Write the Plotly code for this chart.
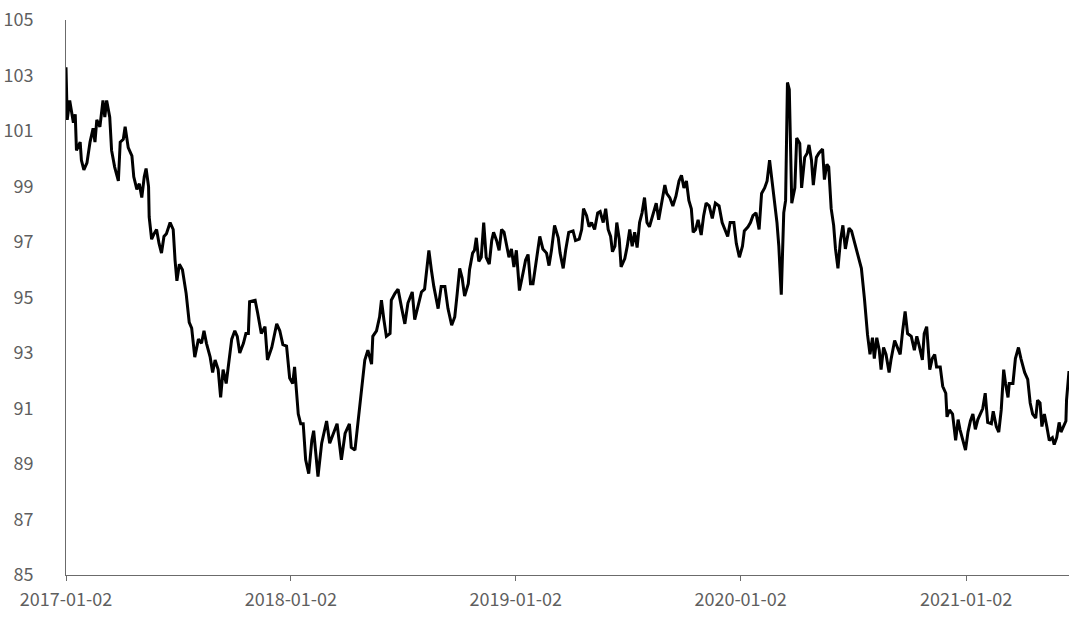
import pandas as pd
import plotly.graph_objects as go

# Days elapsed since 2017-01-02 for each sampled observation
day_offsets = [
    0, 2, 6, 12, 15, 17, 23, 25, 29, 34,
    39, 44, 47, 50, 55, 60, 63, 66, 71, 74,
    79, 85, 88, 93, 96, 101, 107, 110, 115, 119,
    123, 127, 130, 134, 135, 139, 143, 147, 151, 155,
    159, 163, 169, 174, 177, 180, 184, 189, 195, 200,
    204, 209, 215, 220, 224, 228, 234, 238, 242, 247,
    251, 255, 260, 263,
    269, 274, 278, 282, 288, 292, 296,
    298, 307, 311, 317, 323, 327, 334, 342, 347, 352,
    358, 363, 368, 371, 377, 381, 385, 389, 394, 399,
    402, 406, 409, 415, 423, 428, 434, 440, 447, 453,
    460, 463, 469, 474, 480, 485, 490, 496, 498, 504,
    509, 512, 516, 520, 526, 528, 534, 539, 545, 550,
    555, 562, 566, 572, 577, 582, 588,
    589, 593, 597, 604, 609, 615, 620, 626, 631, 635,
    639, 643, 647, 653, 655, 660, 663, 666, 670, 674,
    678, 682, 687, 691, 694, 699, 703, 707, 711, 715,
    719, 723, 727, 731, 736, 742, 746, 750, 754, 758,
    764, 769, 774, 780, 784, 788, 793, 799, 802, 807, 811,
    816, 823, 827, 833, 837, 840, 845, 849, 853, 858,
    863, 867, 872, 876, 880, 884, 887, 891, 894, 898,
    901, 907, 911, 915, 919, 923, 927, 931, 935, 939,
    943, 947, 953, 958, 962, 968, 972, 975, 980, 985,
    990, 995, 999, 1003, 1007, 1011, 1015, 1018, 1022, 1026,
    1031, 1035, 1039, 1044, 1049, 1054, 1060, 1065, 1069, 1074,
    1078, 1084, 1088, 1093, 1098, 1101, 1107, 1111, 1115, 1120,
    1125, 1129, 1134, 1138, 1142, 1146, 1150, 1154, 1157, 1161,
    1165, 1168, 1171, 1174, 1178, 1183, 1186, 1191, 1194, 1199,
    1203, 1206, 1210, 1213, 1218, 1222,
    1228, 1231, 1235, 1238, 1242, 1246, 1249, 1253, 1257, 1261,
    1265, 1271, 1275, 1280, 1285, 1291, 1296, 1301, 1305, 1309,
    1312, 1316, 1320, 1323, 1327, 1331, 1336, 1339, 1345, 1349,
    1354, 1358, 1362, 1366, 1372, 1377, 1381, 1385, 1390, 1393,
    1397, 1402, 1406, 1410, 1413, 1419, 1423, 1428, 1430, 1434,
    1439, 1444, 1448, 1451, 1456, 1460, 1464, 1468, 1472, 1476,
    1480, 1484, 1488, 1492, 1496, 1502, 1505, 1510, 1514, 1518,
    1522, 1525, 1529, 1531, 1537, 1541, 1546, 1550, 1556, 1561,
    1565, 1569, 1574, 1577, 1581, 1584, 1588, 1592, 1596, 1601,
    1604, 1608, 1612, 1615, 1619, 1623, 1624, 1628,
]

index_values = [
    103.3, 101.4, 102.1, 101.3, 101.6, 100.3, 100.6, 99.95, 99.6, 99.85,
    100.6, 101.1, 100.6, 101.4, 101.15, 102.1, 101.5, 102.1, 101.5, 100.3,
    99.7, 99.2, 100.6, 100.7, 101.15, 100.4, 100.1, 99.35, 98.9, 99.1,
    98.6, 99.35, 99.65, 99.0, 97.9, 97.1, 97.3, 97.45, 96.95, 96.6,
    97.2, 97.3, 97.7, 97.45, 96.35, 95.6, 96.2, 96.0, 95.15, 94.1,
    93.9, 92.85, 93.5, 93.35, 93.8, 93.35, 92.85, 92.3, 92.75, 92.4,
    91.4, 92.4, 91.9, 92.5,
    93.5, 93.8, 93.6, 93.0, 93.35, 93.7, 93.7,
    94.85, 94.9, 94.45, 93.7, 93.95, 92.75, 93.2, 94.05, 93.8, 93.3,
    93.25, 92.1, 91.9, 92.5, 90.8, 90.45, 90.45, 89.15, 88.65, 89.85,
    90.2, 89.25, 88.55, 89.75, 90.55, 89.75, 90.1, 90.45, 89.15, 90.1,
    90.45, 89.6, 89.5, 90.45, 91.65, 92.75, 93.1, 92.6, 93.6, 93.8,
    94.3, 94.9, 94.2, 93.6, 93.7, 94.9, 95.15, 95.3, 94.6, 94.05,
    94.8, 95.2, 94.2, 94.8, 95.2, 95.3, 96.55,
    96.7, 96.0, 95.4, 94.6, 95.4, 95.4, 94.6, 94.0, 94.3, 95.15,
    96.05, 95.7, 95.05, 95.5, 96.0, 96.6, 96.7, 97.15, 96.3, 96.45,
    97.7, 96.45, 96.2, 97.05, 97.35, 97.05, 96.7, 97.45, 97.35, 96.9,
    96.45, 96.75, 96.1, 96.7, 95.25, 95.9, 96.35, 96.55, 95.5, 95.5,
    96.35, 97.2, 96.75, 96.6, 96.15, 96.7, 97.6, 97.15, 96.6, 96.05, 96.7,
    97.35, 97.4, 97.05, 97.1, 97.45, 98.2, 97.95, 97.55, 97.7, 97.45,
    98.05, 98.1, 97.7, 98.2, 97.45, 97.2, 96.65, 96.85, 97.7, 97.1,
    96.1, 96.4, 96.85, 97.45, 96.85, 97.35, 96.8, 97.7, 98.05, 98.6,
    97.7, 97.55, 98.05, 98.4, 97.8, 98.5, 99.05, 98.75, 98.6, 98.3,
    98.65, 99.2, 99.4, 98.95, 99.2, 98.5, 98.2, 97.35, 97.45, 97.8,
    97.25, 97.95, 98.4, 98.3, 97.85, 98.4, 98.3, 97.7, 97.45, 97.2,
    97.7, 97.7, 96.95, 96.45, 96.85, 97.4, 97.55, 97.7, 97.95, 98.05,
    97.45, 98.75, 98.95, 99.2, 99.95, 99.25, 98.5, 97.7, 96.85, 95.1,
    98.05, 98.5, 102.75, 102.5, 98.4, 98.95, 100.75, 100.55, 98.95, 100.05,
    100.2, 100.5, 99.95, 99.05, 100.05, 100.2,
    100.35, 99.25, 99.8, 99.7, 98.2, 97.6, 96.75, 96.05, 97.05, 97.6,
    96.75, 97.5, 97.4, 96.95, 96.6, 96.05, 94.95, 93.65, 92.95, 93.55,
    92.8, 93.55, 93.1, 92.4, 93.2, 92.95, 92.3, 92.75, 93.45, 93.2,
    92.95, 93.8, 94.5, 93.7, 93.6, 93.1, 93.6, 93.25, 92.75, 93.7,
    93.95, 92.4, 92.8, 92.95, 92.5, 92.5, 91.8, 91.55, 90.7, 90.95,
    90.8, 89.85, 90.6, 90.25, 89.85, 89.5, 90.15, 90.55, 90.8, 90.25,
    90.6, 90.8, 91.0, 91.55, 90.5, 90.45, 90.9, 90.35, 90.15, 90.95,
    92.4, 91.9, 91.4, 91.9, 91.9, 92.8, 93.2, 92.8, 92.3, 92.05,
    91.2, 90.8, 90.65, 91.3, 91.2, 90.35, 90.8, 90.35, 89.85, 89.95,
    89.7, 89.95, 90.5, 90.15, 90.35, 90.55, 91.3, 92.35,
]

start_date = "2017-01-02"
x_tick_labels = ["2017-01-02", "2018-01-02", "2019-01-02", "2020-01-02", "2021-01-02"]
y_tick_values = [85, 87, 89, 91, 93, 95, 97, 99, 101, 103, 105]

dates = pd.Timestamp(start_date) + pd.to_timedelta(day_offsets, unit="D")

fig = go.Figure()
fig.add_trace(go.Scatter(
    x=dates, y=index_values, mode="lines",
    line=dict(color="#000000", width=3),
    hoverinfo="x+y", showlegend=False,
))

font_family = "Noto Sans CJK SC, Noto Sans, sans-serif"
axis_grey = "#6b6b6b"
label_grey = "#5f5f5f"

fig.update_layout(
    width=1080, height=617,
    margin=dict(l=66, r=11, t=20, b=42, autoexpand=False),
    paper_bgcolor="white", plot_bgcolor="white",
    font=dict(family=font_family, size=18, color=label_grey),
    xaxis=dict(
        type="date",
        automargin=False,
        ticklabeloverflow="allow",
        range=[dates[0], dates[-1]],
        tickvals=pd.to_datetime(x_tick_labels),
        ticktext=x_tick_labels,
        showgrid=False, zeroline=False,
        showline=True, linecolor=axis_grey, linewidth=1,
        ticks="outside", ticklen=5, tickcolor=axis_grey, tickwidth=1,
        ticklabelstandoff=3,
        tickfont=dict(family=font_family, size=18, color=label_grey),
    ),
    yaxis=dict(
        automargin=False,
        ticklabeloverflow="allow",
        range=[85, 105],
        tickvals=y_tick_values,
        showgrid=False, zeroline=False,
        showline=True, linecolor=axis_grey, linewidth=1,
        ticks="", ticklabelstandoff=28,
        tickfont=dict(family=font_family, size=18, color=label_grey),
    ),
)

fig.write_html(
    "out.html",
    config={"displayModeBar": False},
    post_script="document.body.style.margin='0';document.body.style.overflow='hidden';",
)
